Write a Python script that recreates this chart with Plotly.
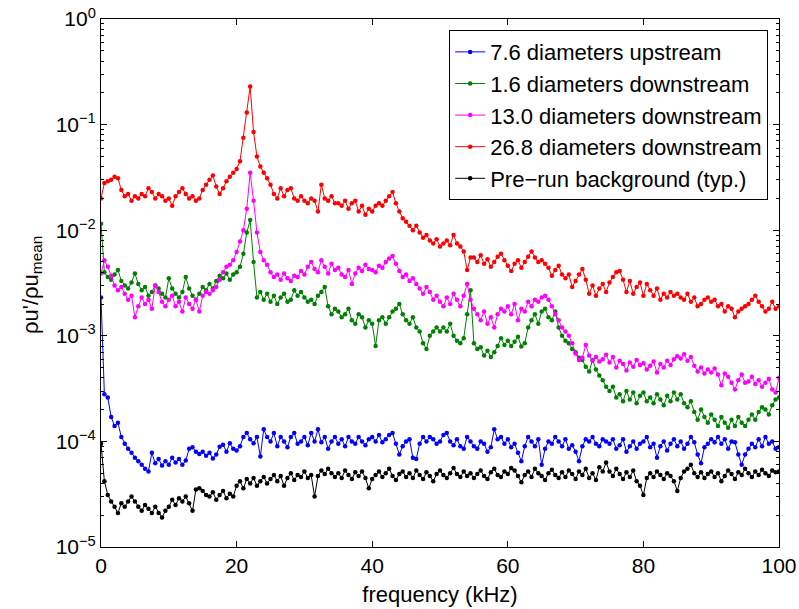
import numpy as np
import plotly.graph_objects as go

# frequency grid (kHz), sampled every 0.5 kHz
freq_khz = np.round(np.arange(201) * 0.5, 1)

# 26.8 diameters downstream (units of 1e-3)
red_e3 = [
    20, 28, 29, 30, 32, 31, 24, 21, 22, 19,
    21, 20, 22, 21, 25, 23, 20, 22, 21, 19,
    20, 17, 21, 23, 25, 22, 20, 21, 19, 20,
    24, 27, 30, 33, 26, 22, 25, 29, 32, 35,
    38, 45, 75, 130, 230, 85, 50, 40, 35, 31,
    27, 22, 20, 25, 21, 24, 25, 20, 19, 21,
    19, 18, 20, 19, 15, 27, 20, 19, 21, 18,
    18, 17, 19, 16, 18, 19, 15, 17, 14, 16,
    15, 17, 18, 17, 19, 21, 23, 18, 15, 13,
    12, 11, 10, 11, 9.5, 8.5, 9, 8, 7.5, 8.2,
    7.0, 7.5, 8.0, 7.2, 9.0, 7.5, 7.0, 6.3, 4.2, 5.5,
    5.5, 5.0, 5.8, 4.8, 5.3, 4.5, 5.0, 5.6, 6.0, 5.2,
    4.6, 4.1, 4.8, 5.2, 4.4, 5.0, 5.6, 6.3, 5.5, 5.0,
    5.2, 4.8, 4.4, 3.7, 4.2, 4.6, 3.8, 3.5, 3.8, 2.9,
    3.3, 3.8, 4.3, 3.4, 2.5, 3.0, 2.4, 2.8, 3.1, 2.6,
    3.2, 3.6, 4.0, 4.1, 3.4, 2.6, 3.3, 2.5, 2.9, 3.2,
    2.4, 3.1, 2.7, 2.4, 2.8, 2.2, 2.5, 2.3, 2.6, 2.4,
    2.5, 2.3, 2.2, 2.5, 2.1, 2.3, 1.9, 2.0, 2.2, 2.3,
    2.1, 2.2, 1.9, 2.0, 1.7, 1.9, 1.8, 1.5, 1.7, 1.8,
    1.9, 2.0, 2.2, 2.4, 2.1, 1.9, 1.7, 1.8, 2.1, 1.8, 1.9,
]

# 13.0 diameters downstream (units of 1e-4)
magenta_e4 = [
    39, 52, 45, 37, 30, 27, 29, 25, 22, 24,
    15, 19, 23, 20, 22, 18, 30, 26, 21, 19,
    22, 24, 19, 21, 17, 23, 20, 18, 22, 17,
    24, 26, 25, 27, 29, 34, 40, 45, 47, 52,
    62, 78, 100, 160, 350, 190, 95, 62, 52, 47,
    40, 36, 38, 34, 39, 35, 33, 37, 36, 41,
    38, 45, 50, 43, 40, 52, 45, 39, 48, 42,
    44, 38, 36, 42, 31, 39, 44, 41, 47, 43,
    42, 40, 46, 44, 50, 54, 57, 48, 41, 36,
    38, 33, 35, 31, 28, 25, 29, 26, 22, 24,
    21, 19, 23, 20, 25, 22, 19, 24, 31, 22,
    18, 16, 14, 17, 13, 15, 12, 16, 18, 17,
    19, 16, 20, 14, 18, 17, 21, 19, 22, 21,
    23, 24, 22, 19, 16, 14, 12, 11, 10, 8.5,
    6.8, 5.9, 6.2, 8.2, 6.5, 5.8, 6.3, 5.7, 6.0, 6.6,
    5.6, 6.3, 5.0, 5.8, 5.4, 4.7, 5.6, 5.1, 5.9, 5.3,
    5.5, 4.8, 5.2, 5.7, 4.5, 5.4, 5.0, 5.8, 5.3, 6.0,
    6.4, 6.1, 6.7, 5.8, 6.3, 5.2, 4.6, 5.0, 4.4, 4.8,
    4.5, 4.9, 4.3, 3.4, 4.4, 4.1, 3.6, 3.1, 3.8, 4.3,
    3.6, 3.7, 4.1, 3.5, 3.8, 3.3, 3.6, 3.9, 3.1, 2.9, 4.0,
]

# 1.6 diameters downstream (units of 1e-4)
green_e4 = [
    115, 40, 36, 34, 38, 42, 33, 30, 28, 32,
    39, 31, 27, 29, 24, 26, 30, 28, 25, 23,
    35, 28, 25, 23, 26, 36, 28, 24, 22, 25,
    29, 27, 31, 28, 33, 37, 35, 39, 34, 38,
    40, 45, 60, 95, 125, 50, 23, 26, 22, 25,
    21, 24, 20, 23, 25, 21, 22, 27, 24, 26,
    23, 21, 22, 20, 24, 26, 29, 19, 16, 18,
    17, 15, 16, 18, 14, 13, 16, 15, 12, 14,
    13, 8, 14, 15, 13, 15, 17, 18, 20, 16,
    14, 13, 15, 12, 11, 8.5, 7.5, 10, 11, 12,
    11, 12, 11, 13, 10, 9, 8.5, 9.5, 16, 27,
    8.5, 7.5, 7.8, 6.5, 7.2, 6.3, 7.0, 8.0, 9.5, 8.2,
    9.0, 8.0, 8.8, 9.8, 7.9, 8.5, 12, 14, 16, 13,
    17, 18, 15, 14, 17, 12, 10, 9, 8.5, 7.5,
    7.0, 6.2, 5.9, 5.1, 4.6, 5.9, 4.8, 4.2, 3.8, 3.3,
    3.0, 3.3, 2.6, 2.8, 2.4, 3.0, 2.5, 2.9, 2.3, 2.7,
    2.9, 2.4, 2.6, 2.3, 2.8, 2.5, 2.2, 2.7, 2.4, 2.9,
    2.5, 2.8, 2.3, 2.1, 2.4, 1.9, 1.6, 2.0, 1.7, 1.5,
    1.8, 1.6, 1.4, 1.7, 1.5, 1.35, 1.6, 1.4, 1.7, 1.5,
    1.4, 1.6, 1.8, 1.6, 1.9, 2.1, 2.0, 1.8, 2.2, 2.5, 2.6,
]

# 7.6 diameters upstream (units of 1e-5)
blue_e5 = [
    230, 28, 26, 17, 14, 15, 11, 9.5, 8.5, 7.8,
    7.0, 6.5, 6.0, 5.5, 5.2, 7.8, 6.2, 6.8, 5.9, 6.5,
    6.0, 7.0, 6.3, 6.8, 6.0, 6.6, 8.5, 8.8, 8.0, 7.6,
    8.0, 7.3, 7.8, 6.9, 7.5, 8.9, 9.3, 8.0, 9.6, 8.5,
    8.2, 9.0, 11, 12, 10.5, 9.6, 11, 7.2, 13, 11,
    10, 12, 9.0, 11, 10, 8.8, 11, 12, 9.5, 10,
    11, 9.2, 12, 10, 13, 9.8, 11, 8.5, 10, 11,
    9.5, 10.5, 9.0, 11, 10, 9.5, 11, 10, 9.2, 10.5,
    11, 10, 11.5, 9.8, 10.5, 11.5, 12, 9.5, 7.5, 9.0,
    10, 10.5, 7.0, 6.8, 9.5, 11, 10, 11, 10.5, 9.5,
    10, 11.5, 12, 10, 9.2, 10.5, 9.0, 8.5, 11, 10,
    9.0, 8.5, 10, 9.5, 8.0, 8.8, 13, 10.5, 11, 9.5,
    10.5, 8.8, 9.5, 7.8, 6.5, 9.0, 11, 10, 9.0, 10.5,
    6.0, 8.5, 10, 9.5, 11, 10, 9.0, 10.5, 8.5, 9.2,
    8.0, 6.5, 9.0, 10.5, 10, 11, 9.5, 9.0, 10.5, 10,
    9.5, 10.5, 8.5, 9.2, 10.5, 8.0, 9.0, 10, 8.5, 9.5,
    10, 11, 8.8, 9.5, 7.0, 9.0, 10, 8.2, 9.5, 10.5,
    9.0, 10, 8.5, 9.5, 11, 9.8, 7.5, 6.2, 8.8, 9.5,
    10.5, 9.8, 11, 9.5, 10.5, 8.5, 10, 9.8, 7.5, 6.0,
    7.5, 8.5, 9.5, 8.8, 10.5, 9.0, 11, 9.5, 10, 8.5, 8.8,
]

# Pre-run background (units of 1e-6)
black_e6 = [
    95, 42, 31, 27, 24, 21, 26, 24, 27, 30,
    27, 24, 22, 25, 23, 21, 24, 21, 19, 22,
    24, 28, 25, 29, 27, 30, 26, 22, 35, 36,
    34, 31, 30, 33, 28, 31, 34, 29, 32, 30,
    38, 42, 36, 44, 40, 45, 38, 42, 46, 40,
    44, 48, 42, 47, 38, 45, 50, 43, 48, 46,
    52, 45, 48, 30, 47, 53, 49, 55, 50, 46,
    50, 45, 53, 48, 44, 51, 47, 52, 45, 36,
    44, 48, 52, 46, 50, 55, 47, 43, 49, 52,
    46, 50, 45, 53, 48, 44, 51, 47, 42, 49,
    53, 48, 45, 50, 56, 49, 46, 52, 47, 50,
    45, 49, 53, 47, 44, 51, 55, 48, 46, 52,
    49, 56, 53, 47, 41, 48, 52, 46, 55, 50,
    47, 43, 50, 54, 48, 45, 51, 46, 53, 49,
    44, 52, 48, 55, 45, 50, 43, 57, 52, 63,
    52, 47, 55, 49, 44, 51, 46, 53, 42, 38,
    31, 45, 50, 46, 52, 48, 44, 50, 47, 42,
    34, 45, 52, 55, 60, 50, 46, 51, 45, 49,
    52, 46, 50, 42, 47, 53, 49, 44, 51, 48,
    55, 50, 46, 52, 48, 54, 50, 47, 53, 51, 52,
]

series = [
    ("7.6 diameters upstream", np.array(blue_e5) * 1e-5, "#0000FF"),
    ("1.6 diameters downstream", np.array(green_e4) * 1e-4, "#008000"),
    ("13.0 diameters downstream", np.array(magenta_e4) * 1e-4, "#FF00FF"),
    ("26.8 diameters downstream", np.array(red_e3) * 1e-3, "#FF0000"),
    ("Pre\u2212run background (typ.)", np.array(black_e6) * 1e-6, "#000000"),
]

y_major = [1e-5, 1e-4, 1e-3, 1e-2, 1e-1, 1e0]
y_major_text = ["10<sup>\u22125</sup>", "10<sup>\u22124</sup>", "10<sup>\u22123</sup>",
                "10<sup>\u22122</sup>", "10<sup>\u22121</sup>", "10<sup>0</sup>"]
y_minor = [m * 10.0 ** e for e in range(-5, 0) for m in range(2, 10)]
x_ticks = [0, 20, 40, 60, 80, 100]

fig = go.Figure()
for name, vals, col in series:
    assert len(vals) == len(freq_khz)
    fig.add_trace(go.Scatter(
        x=freq_khz, y=vals, name=name, mode="lines+markers",
        line=dict(color=col, width=1),
        marker=dict(color=col, size=4.5, symbol="circle", line=dict(width=0)),
    ))

font_family = "Liberation Sans, Arial, Helvetica, sans-serif"
fig.update_layout(
    width=799, height=609,
    margin=dict(l=101, r=20, t=19, b=62, autoexpand=False),
    paper_bgcolor="white", plot_bgcolor="white",
    font=dict(family=font_family, size=21, color="black"),
    legend=dict(
        x=0.984, y=0.979, xanchor="right", yanchor="top",
        bgcolor="white", bordercolor="black", borderwidth=1,
        font=dict(size=22, color="black"), tracegroupgap=0,
    ),
    annotations=[dict(
        text="\u03c1u'/\u03c1u<sub>mean</sub>", textangle=-90,
        xref="paper", yref="paper", x=-0.102, y=0.496,
        xanchor="center", yanchor="middle", showarrow=False,
        font=dict(size=22, color="black"),
    )],
)
fig.update_xaxes(
    range=[0, 100], tickvals=x_ticks, ticks="inside", ticklen=6,
    tickcolor="black", mirror="allticks", showline=True, linecolor="black",
    linewidth=1, showgrid=False, zeroline=False, automargin=False,
    tickfont=dict(size=21),
    title=dict(text="frequency (kHz)", font=dict(size=22), standoff=10),
)
fig.update_yaxes(
    type="log", range=[-5, 0], tickvals=y_major, ticktext=y_major_text,
    ticks="inside", ticklen=6, tickcolor="black", mirror="allticks",
    showline=True, linecolor="black", linewidth=1, showgrid=False,
    zeroline=False, automargin=False, tickfont=dict(size=21),
    minor=dict(tickvals=y_minor, ticks="inside", ticklen=3, tickcolor="black", showgrid=False),
)

fig.write_html("out.html")
